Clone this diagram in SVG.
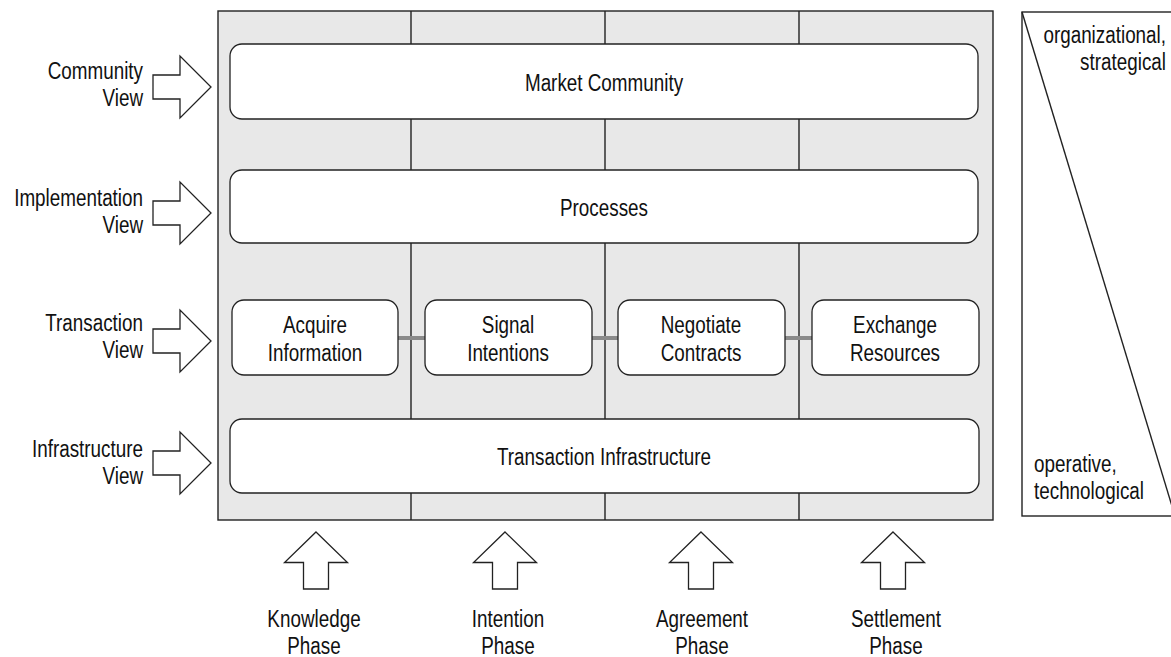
<svg xmlns="http://www.w3.org/2000/svg" width="1171" height="657" viewBox="0 0 1171 657">
  <style>
    text { font-family: "Liberation Sans", Arial, sans-serif; font-size: 23px; fill: #111; }
    .mid { text-anchor: middle; }
    .end { text-anchor: end; }
    .frame { fill: #e8e8e8; stroke: #222; stroke-width: 1.4; }
    .divider { stroke: #222; stroke-width: 1.4; fill: none; }
    .box { fill: #fff; stroke: #222; stroke-width: 1.3; }
    .arrow { fill: #fff; stroke: #222; stroke-width: 1.3; stroke-linejoin: miter; }
    .link { stroke: #8a8a8a; stroke-width: 4; fill: none; }
    .scale { fill: #fff; stroke: #222; stroke-width: 1.4; }
  </style>
  <defs>
    <!-- block arrow pointing right, tip at origin -->
    <path id="arrowRight" d="M-58,-12 H-31 V-31 L0,0 L-31,31 V12 H-58 Z"/>
    <!-- block arrow pointing up, tip at origin -->
    <path id="arrowUp" d="M0,0 L31.5,30.5 H12.5 V57 H-12.5 V30.5 H-31.5 Z"/>
  </defs>

  <!-- background frame with phase columns -->
  <g id="frame">
    <rect class="frame" x="218" y="11" width="775" height="509"/>
    <line class="divider" x1="411" y1="11" x2="411" y2="520"/>
    <line class="divider" x1="605" y1="11" x2="605" y2="520"/>
    <line class="divider" x1="799" y1="11" x2="799" y2="520"/>
  </g>

  <!-- links between the transaction steps -->
  <g id="connectors">
    <line class="link" x1="398" y1="338" x2="425" y2="338"/>
    <line class="link" x1="592" y1="338" x2="618" y2="338"/>
    <line class="link" x1="785" y1="338" x2="812" y2="338"/>
  </g>

  <!-- labels use a narrow setting of the sans face (horizontal scale 0.82) -->
  <g id="market-community">
    <rect class="box" x="230" y="44" width="748" height="75" rx="12"/>
    <text class="mid" transform="translate(604 91) scale(0.82 1)">Market Community</text>
  </g>
  <g id="processes">
    <rect class="box" x="230" y="170" width="748" height="73" rx="12"/>
    <text class="mid" transform="translate(604 216) scale(0.82 1)">Processes</text>
  </g>
  <g id="acquire-information">
    <rect class="box" x="232" y="300" width="166" height="75" rx="12"/>
    <text class="mid" transform="translate(315 333) scale(0.82 1)">Acquire</text>
    <text class="mid" transform="translate(315 361) scale(0.82 1)">Information</text>
  </g>
  <g id="signal-intentions">
    <rect class="box" x="425" y="300" width="167" height="75" rx="12"/>
    <text class="mid" transform="translate(508 333) scale(0.82 1)">Signal</text>
    <text class="mid" transform="translate(508 361) scale(0.82 1)">Intentions</text>
  </g>
  <g id="negotiate-contracts">
    <rect class="box" x="618" y="300" width="167" height="75" rx="12"/>
    <text class="mid" transform="translate(701 333) scale(0.82 1)">Negotiate</text>
    <text class="mid" transform="translate(701 361) scale(0.82 1)">Contracts</text>
  </g>
  <g id="exchange-resources">
    <rect class="box" x="812" y="300" width="167" height="75" rx="12"/>
    <text class="mid" transform="translate(895 333) scale(0.82 1)">Exchange</text>
    <text class="mid" transform="translate(895 361) scale(0.82 1)">Resources</text>
  </g>
  <g id="transaction-infrastructure">
    <rect class="box" x="230" y="419" width="749" height="74" rx="12"/>
    <text class="mid" transform="translate(604 465) scale(0.82 1)">Transaction Infrastructure</text>
  </g>

  <!-- views (left) -->
  <g id="community-view">
    <use href="#arrowRight" class="arrow" x="211" y="87"/>
    <text class="end" transform="translate(143 79) scale(0.82 1)">Community</text>
    <text class="end" transform="translate(143 106) scale(0.82 1)">View</text>
  </g>
  <g id="implementation-view">
    <use href="#arrowRight" class="arrow" x="211" y="213"/>
    <text class="end" transform="translate(143 206) scale(0.82 1)">Implementation</text>
    <text class="end" transform="translate(143 233) scale(0.82 1)">View</text>
  </g>
  <g id="transaction-view">
    <use href="#arrowRight" class="arrow" x="211" y="341"/>
    <text class="end" transform="translate(143 331) scale(0.82 1)">Transaction</text>
    <text class="end" transform="translate(143 358) scale(0.82 1)">View</text>
  </g>
  <g id="infrastructure-view">
    <use href="#arrowRight" class="arrow" x="211" y="463"/>
    <text class="end" transform="translate(143 457) scale(0.82 1)">Infrastructure</text>
    <text class="end" transform="translate(143 484) scale(0.82 1)">View</text>
  </g>

  <!-- phases (bottom) -->
  <g id="knowledge-phase">
    <use href="#arrowUp" class="arrow" x="316" y="532"/>
    <text class="mid" transform="translate(314 627) scale(0.82 1)">Knowledge</text>
    <text class="mid" transform="translate(314 654) scale(0.82 1)">Phase</text>
  </g>
  <g id="intention-phase">
    <use href="#arrowUp" class="arrow" x="505" y="532"/>
    <text class="mid" transform="translate(508 627) scale(0.82 1)">Intention</text>
    <text class="mid" transform="translate(508 654) scale(0.82 1)">Phase</text>
  </g>
  <g id="agreement-phase">
    <use href="#arrowUp" class="arrow" x="701" y="532"/>
    <text class="mid" transform="translate(702 627) scale(0.82 1)">Agreement</text>
    <text class="mid" transform="translate(702 654) scale(0.82 1)">Phase</text>
  </g>
  <g id="settlement-phase">
    <use href="#arrowUp" class="arrow" x="893" y="532"/>
    <text class="mid" transform="translate(896 627) scale(0.82 1)">Settlement</text>
    <text class="mid" transform="translate(896 654) scale(0.82 1)">Phase</text>
  </g>

  <!-- abstraction scale (right) -->
  <g id="abstraction-scale">
    <rect class="scale" x="1022" y="12" width="160" height="504"/>
    <line class="divider" x1="1022" y1="12" x2="1175" y2="516"/>
    <text class="end" transform="translate(1166 43) scale(0.82 1)">organizational,</text>
    <text class="end" transform="translate(1166 70) scale(0.82 1)">strategical</text>
    <text transform="translate(1034 472) scale(0.82 1)">operative,</text>
    <text transform="translate(1034 499) scale(0.82 1)">technological</text>
  </g>
</svg>
